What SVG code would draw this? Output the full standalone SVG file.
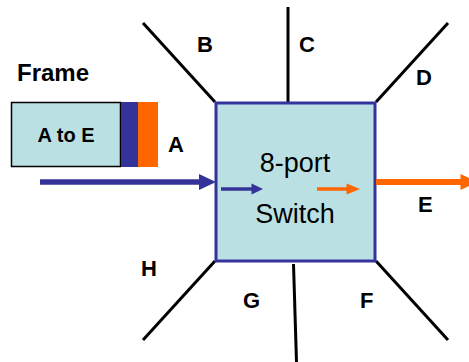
<svg xmlns="http://www.w3.org/2000/svg" width="469" height="362" viewBox="0 0 469 362">
<style>
.lbl{font-family:"Liberation Sans",Arial,sans-serif;font-weight:bold;font-size:22px;fill:#000}
.port{stroke:#000;stroke-width:3;fill:none}
.sw{font-family:"Liberation Sans",Arial,sans-serif;font-size:27px;fill:#000;text-anchor:middle}
</style>
<rect width="469" height="362" fill="#fff"/>
<g id="ports">
<line class="port" x1="143" y1="23" x2="215" y2="102"/>
<line class="port" x1="288" y1="7" x2="288" y2="102"/>
<line class="port" x1="448" y1="23" x2="376" y2="102"/>
<line class="port" x1="143" y1="340" x2="215" y2="261"/>
<line class="port" x1="293.5" y1="264" x2="296.5" y2="362"/>
<line class="port" x1="448" y1="340" x2="376" y2="261"/>
</g>
<g id="frame">
<text class="lbl" x="17" y="81" font-size="24" style="font-size:24px">Frame</text>
<rect x="11.5" y="102.5" width="109" height="64" fill="#BBE0E3" stroke="#000" stroke-width="1.5"/>
<rect x="121" y="102" width="17" height="65" fill="#333399"/>
<rect x="138" y="102" width="20" height="65" fill="#FF6600"/>
<text x="66" y="142" font-family="Liberation Sans, Arial, sans-serif" font-weight="bold" font-size="20" text-anchor="middle">A to E</text>
</g>
<g id="switch">
<rect x="216" y="103" width="159" height="158" fill="#BBE0E3" stroke="#333399" stroke-width="3"/>
<text class="sw" x="295" y="172">8-port</text>
<text class="sw" x="295" y="223">Switch</text>
</g>
<g id="connectors">
<line x1="40" y1="182" x2="201" y2="182" stroke="#333399" stroke-width="5.5"/>
<polygon points="199,174 216,182 199,190" fill="#333399"/>
<line x1="221" y1="189" x2="253" y2="189" stroke="#333399" stroke-width="3.5"/>
<polygon points="251.5,183.5 263,189 251.5,194.5" fill="#333399"/>
<line x1="317" y1="189" x2="348" y2="189" stroke="#FF6600" stroke-width="3.5"/>
<polygon points="346.5,183.5 360,189 346.5,194.5" fill="#FF6600"/>
<line x1="376" y1="182" x2="462" y2="182" stroke="#FF6600" stroke-width="6"/>
<polygon points="460.5,174 477,182 460.5,190" fill="#FF6600"/>
</g>
<g id="labels">
<text class="lbl" x="168" y="152">A</text>
<text class="lbl" x="197" y="52">B</text>
<text class="lbl" x="299" y="52">C</text>
<text class="lbl" x="416" y="85">D</text>
<text class="lbl" x="418" y="212">E</text>
<text class="lbl" x="360" y="308">F</text>
<text class="lbl" x="243" y="308">G</text>
<text class="lbl" x="141" y="276">H</text>
</g>
</svg>
